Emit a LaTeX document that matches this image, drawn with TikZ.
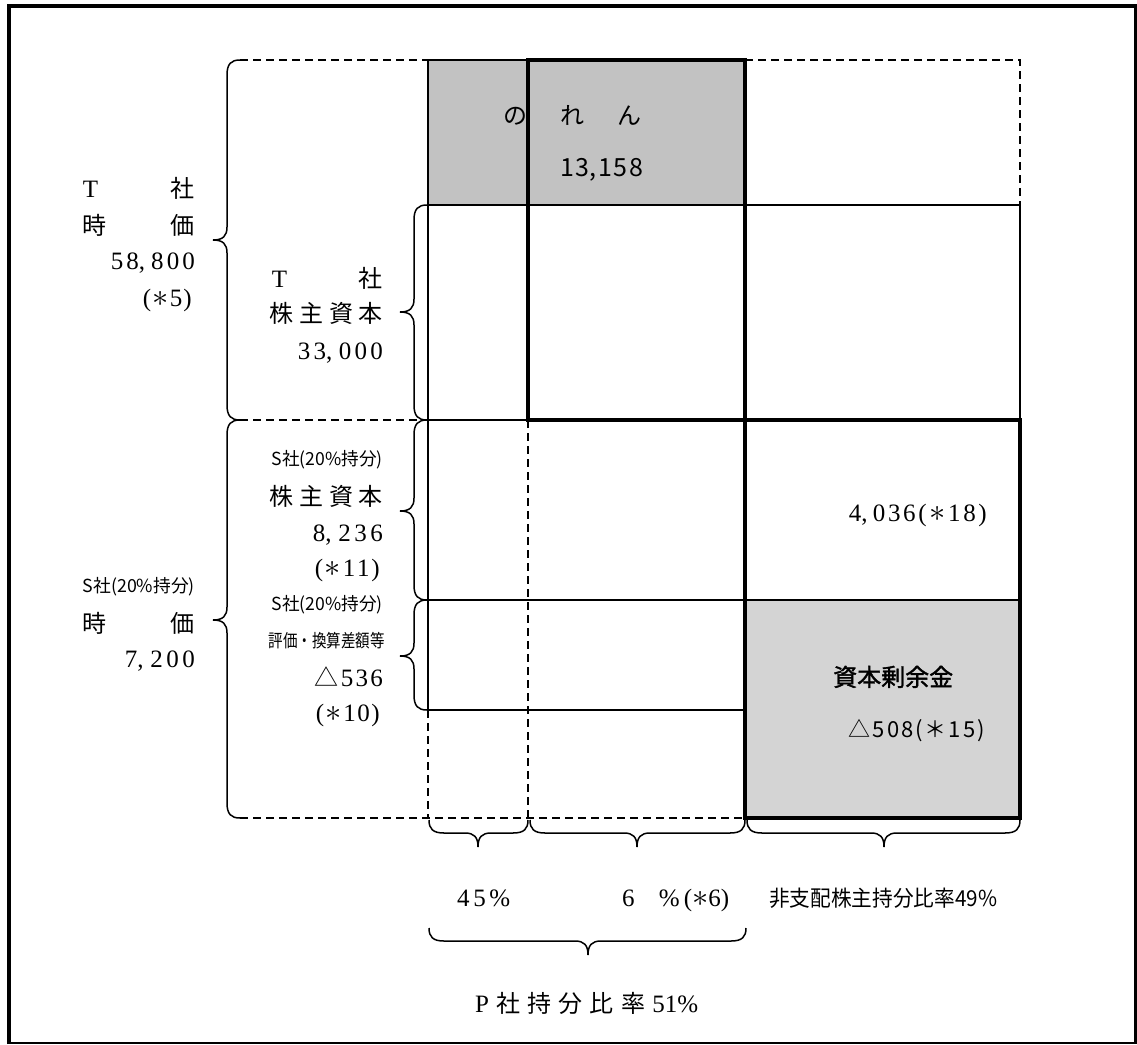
\documentclass[tikz,border=0pt]{standalone}
\usepackage{fontspec}
\setmainfont{Liberation Serif}
\newfontfamily\jp{Noto Sans CJK JP}
\newcommand\J{\fontsize{24}{24}\selectfont\jp}
\newcommand\Js{\fontsize{18}{18}\selectfont\jp}
\newcommand\fitw[2]{\resizebox{#1}{\height}{#2}}
\newcommand\spr[2]{\makebox[#1][s]{#2}}
\newcommand\myast{\scalebox{1.3}{$\ast$}}
\newcommand\myvbrace[4]{%
 \draw[brc] (#1,#2) .. controls (#1-9,#2) and (#1-13,#2+4) .. (#1-13,#2+15) -- (#1-13,#4-13) .. controls (#1-13,#4-4) and (#1-17,#4) .. (#1-27,#4) .. controls (#1-17,#4) and (#1-13,#4+4) .. (#1-13,#4+13) -- (#1-13,#3-15) .. controls (#1-13,#3-4) and (#1-9,#3) .. (#1,#3);}
\newcommand\myhbrace[4]{%
 \draw[brc] (#2,#1) .. controls (#2,#1+9) and (#2+4,#1+13) .. (#2+15,#1+13) -- (#4-13,#1+13) .. controls (#4-4,#1+13) and (#4,#1+17) .. (#4,#1+27) .. controls (#4,#1+17) and (#4+4,#1+13) .. (#4+13,#1+13) -- (#3-15,#1+13) .. controls (#3-4,#1+13) and (#3,#1+9) .. (#3,#1);}
\begin{document}
\begin{tikzpicture}[x=1pt,y=-1pt,
 ln/.style={line width=1.5pt},
 thk/.style={line width=3.6pt},
 dsh/.style={line width=1.5pt,dash pattern=on 8pt off 5pt},
 brc/.style={line width=1.5pt},
 lbl/.style={inner sep=0pt,anchor=base east,font=\fontsize{25}{25}\selectfont},
 lblw/.style={inner sep=0pt,anchor=base west,font=\fontsize{25}{25}\selectfont}]
\useasboundingbox (0,0) rectangle (1137,1044);
\fill[white] (0,0) rectangle (1137,1044);
% frame
\draw[line width=4pt] (9,1044) -- (9,6) -- (1137,6);
\draw[line width=2.5pt] (1135.5,6) -- (1135.5,1044);
\draw[line width=1.5pt] (9,1043) -- (1137,1043);
% fills
\fill[black!24] (428,60) rectangle (745,205);
\fill[black!17] (745,600) rectangle (1020,818);
% dashed
\draw[dsh] (240,60) -- (428,60);
\draw[dsh] (745,60) -- (1020,60) -- (1020,205);
\draw[dsh] (240,420) -- (420,420);
\draw[dsh] (240,818) -- (745,818);
\draw[dsh] (428,710) -- (428,818);
\draw[dsh] (528,420) -- (528,818);
% thin solid
\draw[ln] (428,60) -- (528,60);
\draw[ln] (428,60) -- (428,710);
\draw[ln] (428,205) -- (1020,205) -- (1020,420);
\draw[ln] (428,420) -- (528,420);
\draw[ln] (428,600) -- (1020,600);
\draw[ln] (428,710) -- (745,710);
% thick
\draw[thk] (528,60) rectangle (745,420);
\draw[thk] (745,420) rectangle (1020,818);
% braces
\myvbrace{240}{60}{420}{240}
\myvbrace{240}{420}{818}{620}
\myvbrace{427}{205}{420}{312}
\myvbrace{427}{420}{600}{511}
\myvbrace{427}{600}{710}{656}
\myhbrace{820}{429}{528}{478}
\myhbrace{820}{530}{745}{637}
\myhbrace{820}{747}{1020}{884}
\myhbrace{928}{429}{746}{588}
% left outer T
\node[lbl] (a1) at (195,197) {\spr{112pt}{T\hfill{\J 社}}};
\node[lbl] (a2) at (195,234) {\spr{112pt}{{\J 時}\hfill{\J 価}}};
\node[lbl] (a3) at (195,269) {\spr{84pt}{5\hfill 8,\hfill\hfill 8\hfill 0\hfill 0}};
\node[lbl] (a4) at (192,306) {\spr{49pt}{(\hfill \myast\hfill 5\hfill )}};
% inner T
\node[lbl] (b1) at (383,287) {\spr{111pt}{T\hfill{\J 社}}};
\node[lbl] (b2) at (383,322) {\spr{113pt}{\J 株\hfill 主\hfill 資\hfill 本}};
\node[lbl] (b3) at (383,359) {\spr{85pt}{3\hfill 3,\hfill\hfill 0\hfill 0\hfill 0}};
% S inner
\node[lbl] (c1) at (383,465) {\fitw{111pt}{\Js S社(20\%持分)}};
\node[lbl] (c2) at (383,505) {\spr{113pt}{\J 株\hfill 主\hfill 資\hfill 本}};
\node[lbl] (c3) at (383,541) {\spr{70pt}{8,\hfill\hfill 2\hfill 3\hfill 6}};
\node[lbl] (c4) at (380,576) {\spr{65pt}{(\hfill \myast\hfill 1\hfill 1\hfill )}};
\node[lbl] (c5) at (383,610) {\fitw{111pt}{\Js S社(20\%持分)}};
\node[lbl] (c6) at (385,647) {\fitw{116pt}{\Js 評価・換算差額等}};
\node[lbl] (c7) at (383,686) {\spr{68pt}{{\J △}\hfill 5\hfill 3\hfill 6}};
\node[lbl] (c8) at (380,721) {\spr{64pt}{(\hfill \myast\hfill 1\hfill 0\hfill )}};
% S outer
\node[lbl] (d1) at (195,592) {\fitw{112pt}{\Js S社(20\%持分)}};
\node[lbl] (d2) at (195,632) {\spr{112pt}{{\J 時}\hfill{\J 価}}};
\node[lbl] (d3) at (195,667) {\spr{70pt}{7,\hfill\hfill 2\hfill 0\hfill 0}};
% right column
\node[lbl] (e1) at (987,521) {\spr{138pt}{4,\hfill\hfill 0\hfill 3\hfill 6\hfill (\hfill \myast\hfill 1\hfill 8\hfill )}};
\node[lblw] (g1) at (503,124) {\spr{138pt}{\J の\hfill れ\hfill ん}};
\node[lblw] (g2) at (560,176) {\spr{83pt}{\jp 1\hfill 3,\hfill 1\hfill 5\hfill 8}};
\node[lblw] (h1) at (833,686) {\spr{117pt}{\J\addfontfeature{FakeBold=1.5} 資\hfill 本\hfill 剰\hfill 余\hfill 金}};
\node[lbl] (h2) at (985,737) {\spr{136pt}{\jp\fontsize{22}{22}\selectfont △\hfill 5\hfill 0\hfill 8\hfill (\hfill ＊\hfill 1\hfill 5\hfill )}};
% bottom
\node[lblw] (p1) at (457,906) {\spr{53pt}{4\hfill 5\hfill \%}};
\node[lblw] (p2) at (622,906) {\spr{107pt}{6\hfill \%\,(\myast 6)}};
\node[lblw] (p3) at (769,906) {\fitw{228pt}{\jp\fontsize{22}{22}\selectfont 非支配株主持分比率49\%}};
\node[lblw] (p4) at (475,1012) {\spr{223pt}{P\hfill {\J 社}\hfill {\J 持}\hfill {\J 分}\hfill {\J 比}\hfill {\J 率}\hfill 51\%}};
\end{tikzpicture}
\end{document}
